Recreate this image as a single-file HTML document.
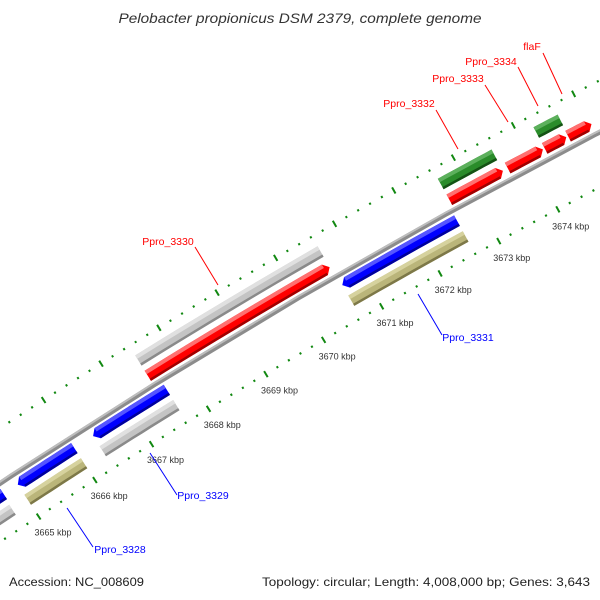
<!DOCTYPE html>
<html><head><meta charset="utf-8"><style>
html,body{margin:0;padding:0;background:#fff;overflow:hidden;}
svg{display:block;font-family:"Liberation Sans",sans-serif;}
</style></head><body>
<svg id="map" width="600" height="600" viewBox="0 0 600 600">
<rect width="600" height="600" fill="#fff"/>
<g id="marks"></g>
<text x="300" y="23" text-anchor="middle" font-style="italic" font-size="14" fill="#333" textLength="363" lengthAdjust="spacingAndGlyphs">Pelobacter propionicus DSM 2379, complete genome</text>
<text x="9" y="586" font-size="12" fill="#222" textLength="135" lengthAdjust="spacingAndGlyphs">Accession: NC_008609</text>
<text x="590" y="586" text-anchor="end" font-size="12" fill="#222" textLength="328" lengthAdjust="spacingAndGlyphs">Topology: circular; Length: 4,008,000 bp; Genes: 3,643</text>
</svg>
<script>
// ---- data ----
const featStart = [3667.49, 3667.49, 3672.65, 3672.65, 3673.63, 3674.25, 3674.25, 3674.64, 3670.65, 3670.65, 3666.33, 3666.33, 3665.0, 3665.0, 3663.5, 3663.5];
const featEnd   = [3670.62, 3670.62, 3673.55, 3673.55, 3674.22, 3674.61, 3674.65, 3675.03, 3672.6, 3672.6, 3667.62, 3667.62, 3666.0, 3666.0, 3664.75, 3664.73];
const featTrack = ['fwd','fwdcds','fwd','fwdcds','fwd','fwd','fwdcds','fwd','rev','revcds','rev','revcds','rev','revcds','rev','revcds'];
const featColor = ['red','gray','red','green','red','red','green','red','blue','khaki','blue','gray','blue','khaki','blue','gray'];
const tickLabels = [3665,3666,3667,3668,3669,3670,3671,3672,3673,3674];
const geneNames = ['Ppro_3330','Ppro_3331','Ppro_3329','Ppro_3328','Ppro_3332','Ppro_3333','Ppro_3334','flaF'];
const geneColors = ['red','blue','blue','blue','red','red','red','red'];

// ---- geometry ----
const cx=3605, cy=5952, R0=6550, k0=3665, psi0=-33.27, dpk=0.591;
function pt(kbp, r){const a=(psi0+(kbp-k0)*dpk)*Math.PI/180;return [cx+r*Math.sin(a), cy-r*Math.cos(a)];}
const trackR = {fwd:6561, fwdcds:6579, rev:6539, revcds:6521};
const pal = {
 red:['#ff0000','#ff7070','#a00000'], gray:['#c4c4c4','#e0e0e0','#8a8a8a'],
 green:['#2a8c2a','#5cb05c','#145214'], blue:['#0000ff','#5555ff','#00009a'],
 khaki:['#bab57a','#d6d29e','#7d7848']
};
const NS='http://www.w3.org/2000/svg';
const g=document.getElementById('marks');
function arcPts(a,b,r){const n=8,res=[];for(let i=0;i<=n;i++){res.push(pt(a+(b-a)*i/n,r));}return res;}
function poly(points,fill,name){
 const p=document.createElementNS(NS,'polygon');
 p.setAttribute('points',points.map(q=>q[0].toFixed(1)+','+q[1].toFixed(1)).join(' '));
 p.setAttribute('fill',fill);
 
 
 g.appendChild(p);return p;
}
function band(a,b,r1,r2,fill,name){return poly(arcPts(a,b,r2).concat(arcPts(a,b,r1).reverse()),fill,name);}

// backbone
band(3660,3680,R0-2.5,R0+2.5,'#8c8c8c','backbone');
band(3660,3680,R0+0.5,R0+2.5,'#bdbdbd','backbone-highlight');

// ticks
function line(p1,p2,stroke,w,name){
 const l=document.createElementNS(NS,'line');
 l.setAttribute('x1',p1[0].toFixed(1));l.setAttribute('y1',p1[1].toFixed(1));
 l.setAttribute('x2',p2[0].toFixed(1));l.setAttribute('y2',p2[1].toFixed(1));
 l.setAttribute('stroke',stroke);l.setAttribute('stroke-width',w);
 
 
 g.appendChild(l);
}
[6501,6596].forEach(function(rt,ri){
 for(let i=0;i<=70;i++){
  const k=3663+i*0.2;
  const major=(i%5===0);
  if(major){line(pt(k,rt-3.5),pt(k,rt+3.5),'#118811',2,ri?'outer-major-tick':'inner-major-tick');}
  else{line(pt(k,rt-1),pt(k,rt+1.2),'#118811',2,ri?'outer-minor-tick':'inner-minor-tick');}
 }
});
tickLabels.forEach(function(k){
 const p=pt(k+0.05,6480);
 const t=document.createElementNS(NS,'text');
 t.setAttribute('x',p[0].toFixed(1));t.setAttribute('y',(p[1]+3).toFixed(1));
 t.setAttribute('text-anchor','middle');t.setAttribute('font-size','9');t.setAttribute('fill','#333');
 t.textContent=k+' kbp';
 
 
 g.appendChild(t);
});

// features
for(let i=0;i<featStart.length;i++){
 const r=trackR[featTrack[i]], c=pal[featColor[i]], a=featStart[i], b=featEnd[i];
 const h=6, tip=0.08;
 let shape;
 if(featTrack[i]==='fwd'){
  shape=arcPts(a,b-tip,r+h).concat([pt(b,r)]).concat(arcPts(a,b-tip,r-h).reverse());
 } else if(featTrack[i]==='rev'){
  shape=arcPts(a+tip,b,r+h).concat(arcPts(a+tip,b,r-h).reverse()).concat([pt(a,r)]);
 } else {
  shape=arcPts(a,b,r+h).concat(arcPts(a,b,r-h).reverse());
 }
 poly(shape,c[0],'feature-'+featColor[i]);
 const ha=featTrack[i]==='rev'?a+tip:a;
 const hb=featTrack[i]==='fwd'?b-tip:b;
 band(ha,hb,r+2,r+h,c[1],'feature-highlight');
 band(ha,hb,r-h,r-h+2.5,c[2],'feature-shadow');
}

// gene labels
const labelPos = [[168,245],[468,341],[203,499],[120,553],[409,107],[458,82],[491,65],[532,50]];
const leaderA = [[195,247],[442,335],[177,495],[93,547],[436,110],[485,85],[518,67],[543,53]];
const leaderB = [[218,285],[418,294],[150,453],[67,508],[458,149],[508,122],[538,106],[562,94]];
geneNames.forEach(function(n,i){
 const col=geneColors[i]==='red'?'#ff0000':'#0000ff';
 line(leaderA[i],leaderB[i],col,1,'gene-label-leader');
 const t=document.createElementNS(NS,'text');
 t.setAttribute('x',labelPos[i][0]);t.setAttribute('y',labelPos[i][1]);
 t.setAttribute('text-anchor','middle');t.setAttribute('font-size','10.5');t.setAttribute('fill',col);
 t.textContent=n;
 
 
 g.appendChild(t);
});
</script>
</body></html>
